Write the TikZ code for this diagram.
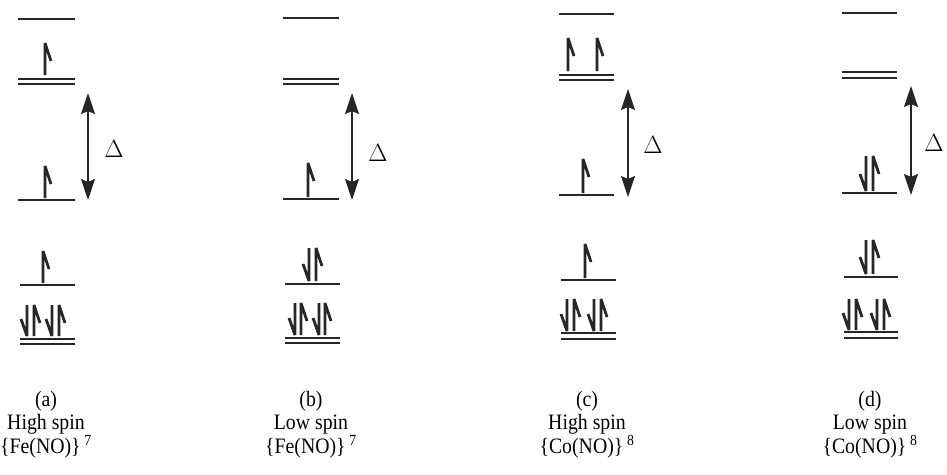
\documentclass[tikz,border=0pt]{standalone}
\usepackage{fontspec}
\setmainfont{Liberation Serif}
\newfontfamily\capfont[FakeStretch=0.9]{Liberation Serif}
\usetikzlibrary{arrows.meta}
\tikzset{
  level/.style={line width=1.9pt, draw=black!85},
  elec/.style={line width=2.8pt, draw=black!85, line join=bevel, line cap=butt},
  gap/.style={line width=1.7pt, draw=black!85, {Stealth[length=21pt,width=14pt,inset=3pt]}-{Stealth[length=21pt,width=14pt,inset=3pt]}},
  deltalbl/.style={font=\fontsize{30}{32}\selectfont, inner sep=0pt},
  caption/.style={font=\capfont\fontsize{22}{23.5}\selectfont, align=center, inner sep=0pt, anchor=north}
}
\newcommand\single[3]{\draw[level] (#1,#3) -- (#2,#3);}
\newcommand\double[4]{\draw[level] (#1,#3) -- (#2,#3); \draw[level] (#1,#4) -- (#2,#4);}
% up-spin electron: x, top, bottom
\newcommand\eup[3]{\draw[elec] (#1,#3) -- (#1,#2) -- ++(6,18);}
% down-spin electron: x, top, bottom
\newcommand\edn[3]{\draw[elec] (#1,#2) -- (#1,#3) -- ++(-6,-17);}
\begin{document}
\begin{tikzpicture}[x=1pt,y=-1pt]
\useasboundingbox (0,0) rectangle (947,474);
\fill[white] (0,0) rectangle (947,474);

% ---------- panel (a)
\single{18}{75}{19}
\double{18}{75}{79}{84}
\eup{45}{43}{75}
\single{18}{75}{200}
\eup{45}{166}{198}
\single{20}{75}{285}
\eup{43}{251}{283}
\double{20}{75}{339}{344}
\edn{27}{305}{336} \eup{34}{305}{336}
\edn{52}{305}{336} \eup{59}{305}{336}
\coordinate (a1) at (88,93);
\coordinate (a2) at (88,200);
\draw[gap] (a1) -- (a2);
\node[deltalbl] (da) at (114,149) {$\Delta$};

% ---------- panel (b)
\single{283}{339}{18}
\double{283}{339}{79}{84}
\single{283}{339}{199}
\eup{308}{163}{197}
\single{285}{340}{284}
\edn{309}{248}{281} \eup{316}{248}{281}
\double{285}{340}{338}{343}
\edn{295}{303}{335} \eup{301}{303}{335}
\edn{319}{303}{335} \eup{325}{303}{335}
\coordinate (b1) at (352,93);
\coordinate (b2) at (352,200);
\draw[gap] (b1) -- (b2);
\node[deltalbl] (db) at (378,153) {$\Delta$};

% ---------- panel (c)
\single{559}{614}{14}
\double{559}{614}{75}{80}
\eup{568}{38}{71} \eup{597}{38}{71}
\single{559}{614}{195}
\eup{583}{159}{193}
\single{561}{616}{280}
\eup{585}{244}{278}
\double{561}{616}{333}{339}
\edn{567}{299}{331} \eup{574}{299}{331}
\edn{594}{299}{331} \eup{601}{299}{331}
\coordinate (c1) at (628,89);
\coordinate (c2) at (628,197);
\draw[gap] (c1) -- (c2);
\node[deltalbl] (dc) at (653,145) {$\Delta$};

% ---------- panel (d)
\single{842}{897}{13}
\double{842}{897}{72}{78}
\single{842}{897}{193}
\edn{866}{156}{191} \eup{873}{156}{191}
\single{844}{898}{277}
\edn{866}{240}{274} \eup{873}{240}{274}
\double{844}{898}{332}{338}
\edn{849}{299}{330} \eup{856}{299}{330}
\edn{877}{299}{330} \eup{884}{299}{330}
\coordinate (d1) at (911,86);
\coordinate (d2) at (911,195);
\draw[gap] (d1) -- (d2);
\node[deltalbl] (dd) at (934,143) {$\Delta$};

% ---------- captions
\node[caption] (capa) at (46,391) {(a)\\High spin\\\{Fe(NO)\}\,\textsuperscript{7}};
\node[caption] (capb) at (311,391) {(b)\\Low spin\\\{Fe(NO)\}\,\textsuperscript{7}};
\node[caption] (capc) at (587,391) {(c)\\High spin\\\{Co(NO)\}\,\textsuperscript{8}};
\node[caption] (capd) at (870,391) {(d)\\Low spin\\\{Co(NO)\}\,\textsuperscript{8}};
\end{tikzpicture}
\end{document}
